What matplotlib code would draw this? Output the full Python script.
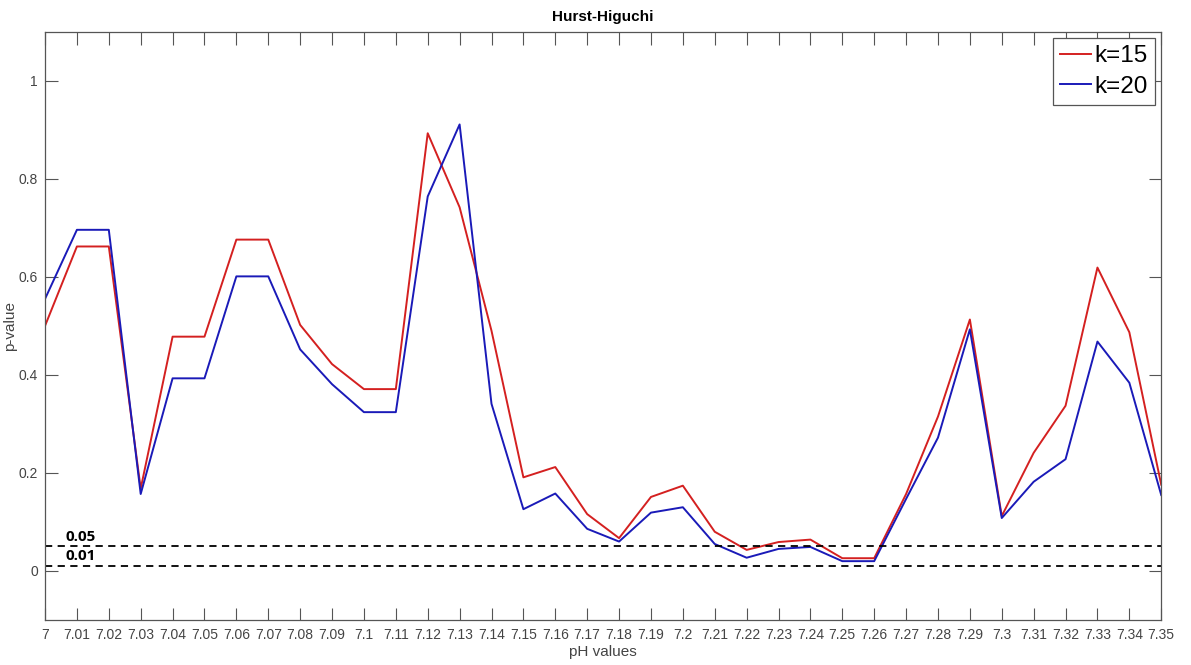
import numpy as np
import matplotlib
matplotlib.use("Agg")
import matplotlib.pyplot as plt

# pH grid and p-values for the two k settings
ph = np.round(np.arange(7.00, 7.351, 0.01), 2)

k15 = [0.500, 0.662, 0.662, 0.168, 0.478, 0.478, 0.676, 0.676, 0.502, 0.422,
       0.371, 0.371, 0.893, 0.742, 0.490, 0.191, 0.212, 0.116, 0.067, 0.151,
       0.174, 0.080, 0.043, 0.059, 0.064, 0.026, 0.026, 0.157, 0.315, 0.513,
       0.112, 0.241, 0.337, 0.619, 0.487, 0.176]
k20 = [0.555, 0.696, 0.696, 0.157, 0.393, 0.393, 0.601, 0.601, 0.452, 0.381,
       0.324, 0.324, 0.764, 0.911, 0.341, 0.126, 0.158, 0.086, 0.060, 0.119,
       0.130, 0.055, 0.027, 0.045, 0.049, 0.020, 0.020, 0.147, 0.272, 0.493,
       0.108, 0.182, 0.228, 0.468, 0.384, 0.155]

thresholds = [0.05, 0.01]
tick_labels = ["7" if v == 7 else ("%g" % v) for v in ph]

plt.rcParams['font.family'] = ['Liberation Sans', 'DejaVu Sans']

fig = plt.figure(figsize=(11.91, 6.65), dpi=100)
ax = fig.add_axes([0.0378, 0.0677, 0.9372, 0.8845])

ax.plot(ph, k15, color='#d42020', lw=1.4, label='k=15')
ax.plot(ph, k20, color='#1a1ab8', lw=1.4, label='k=20')

for t in thresholds:
    ax.axhline(t, color='black', ls=(0, (4, 3)), lw=1.3)
    ax.text(7.0063, t + 0.006, "%.2f" % t, fontsize=11, fontweight='bold',
            family=['Open Sans', 'DejaVu Sans'], va='bottom', ha='left')

ax.set_xlim(7.0, 7.35)
ax.set_ylim(-0.1, 1.1)
ax.set_xticks(ph)
ax.set_xticklabels(tick_labels)
ax.set_yticks([0, 0.2, 0.4, 0.6, 0.8, 1])
ax.set_yticklabels(['0', '0.2', '0.4', '0.6', '0.8', '1'])

ax.tick_params(direction='in', top=True, right=True, length=9, width=0.8,
               colors='#555555', labelsize=10, labelcolor='#444444')
ax.tick_params(axis='y', pad=5)
ax.tick_params(axis='x', pad=6)
for sp in ax.spines.values():
    sp.set_color('#555555')
    sp.set_linewidth(0.9)

ax.set_xlabel('pH values', fontsize=11, color='#444444', labelpad=2)
ax.set_ylabel('p-value', fontsize=11, color='#444444')
ax.yaxis.set_label_coords(-0.025, 0.5)
ax.set_title('Hurst-Higuchi', fontsize=11, fontweight='bold', pad=8)

leg = ax.legend(loc='upper right', fontsize=17.5, handlelength=1.25,
                handletextpad=0.15, borderpad=0.3, labelspacing=0.35,
                fancybox=False, framealpha=1, borderaxespad=0.25)
leg.get_frame().set_edgecolor('#555555')
leg.get_frame().set_linewidth(0.9)

fig.savefig('out.png', dpi=100)
